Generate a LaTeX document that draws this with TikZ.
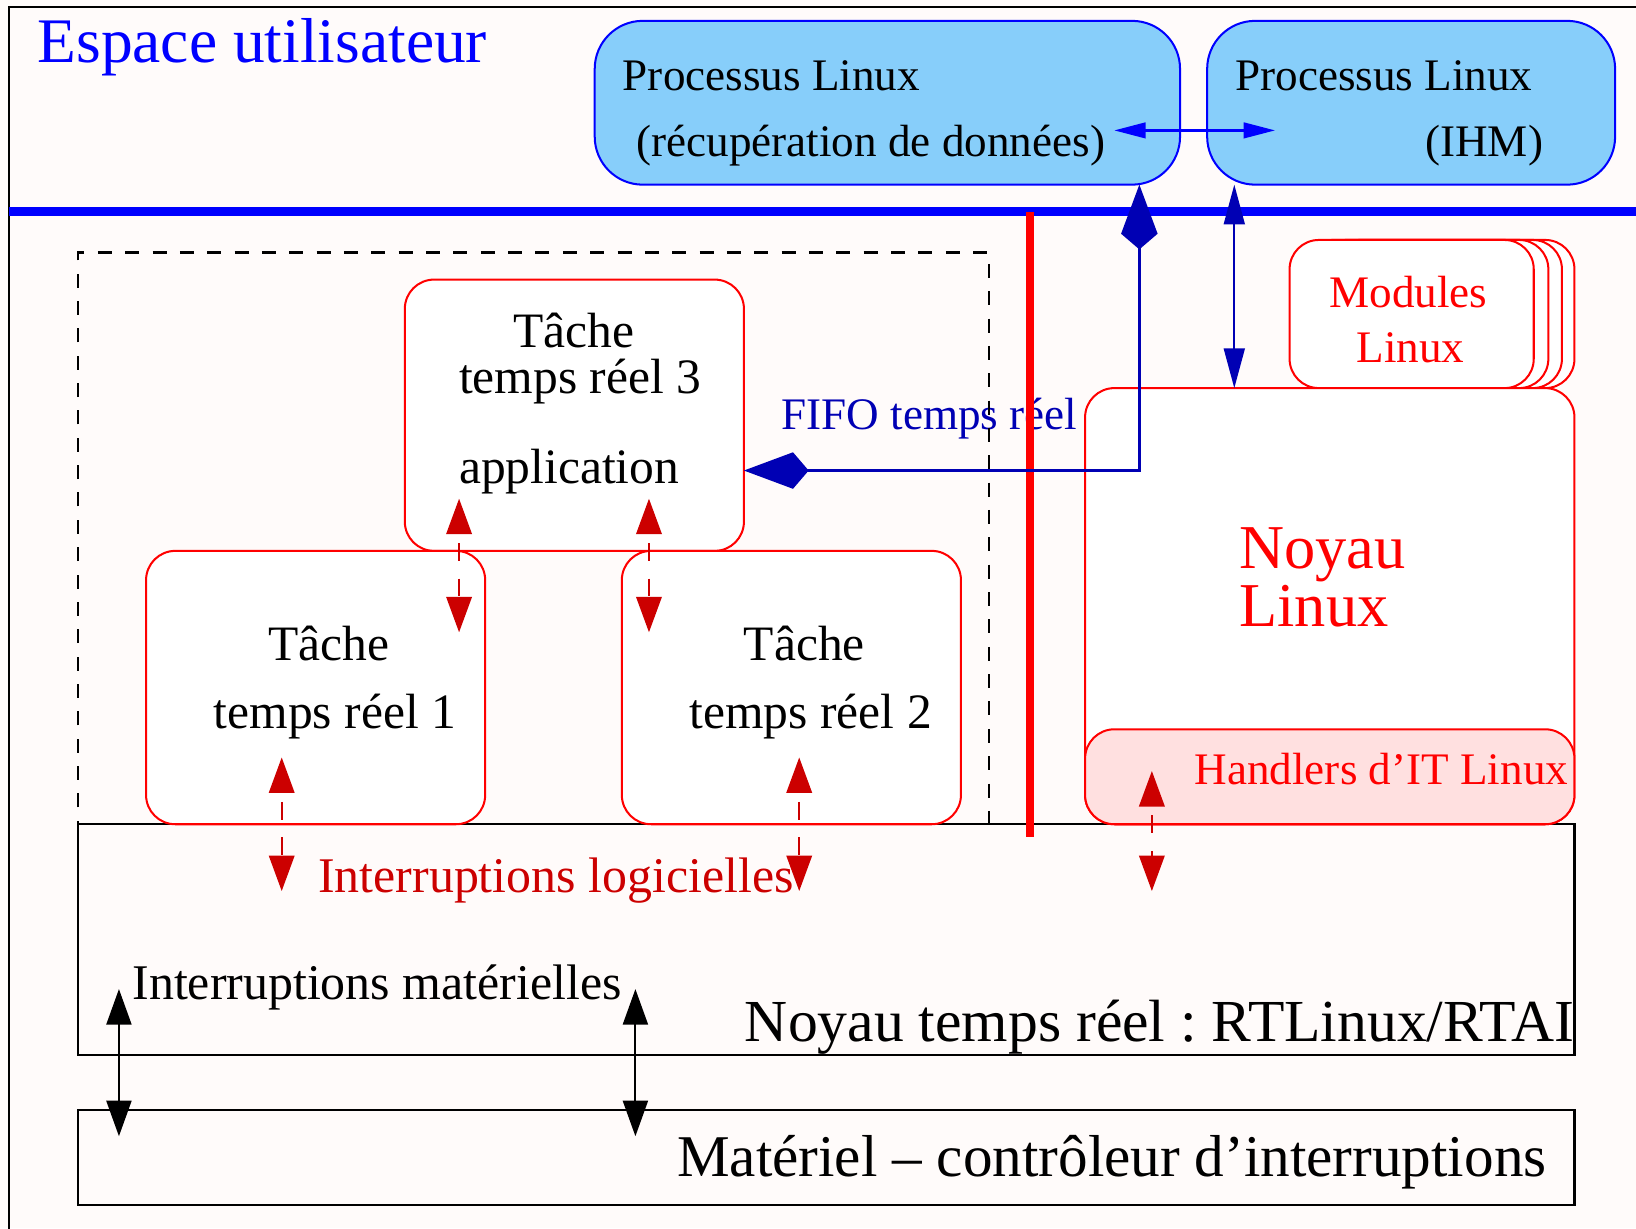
\documentclass[tikz,border=0pt]{standalone}
\usepackage{fontspec}
\setmainfont{Liberation Serif}
\usetikzlibrary{arrows.meta,fit}
\definecolor{bgc}{RGB}{255,251,250}
\definecolor{ublue}{RGB}{0,0,255}
\definecolor{procfill}{RGB}{135,206,250}
\definecolor{dblue}{RGB}{0,0,180}
\definecolor{dred}{RGB}{204,0,0}
\definecolor{pinkfill}{RGB}{255,224,224}
\frenchspacing
\begin{document}
\begin{tikzpicture}[x=0.01cm,y=-0.01cm,
  box/.style={inner sep=0pt, outer sep=0pt, line width=0.55pt},
  procbox/.style={box, draw=ublue, fill=procfill, rounded corners=0.46cm},
  redbox/.style={box, draw=red, fill=white, rounded corners=0.28cm},
  blackbox/.style={box, draw=black, line width=0.6pt},
  txt/.style={inner sep=0pt, outer sep=0pt},
  fs/.style={font=\fontsize{#1}{#1}\selectfont},
  tipR/.tip={Triangle[length=0.34cm,width=0.245cm]},
  tipK/.tip={Triangle[length=0.34cm,width=0.24cm]},
  tipB/.tip={Triangle[length=0.30cm,width=0.15cm]},
  tipD/.tip={Triangle[length=0.38cm,width=0.20cm]},
  tipF/.tip={Kite[length=0.62cm,width=0.35cm,inset=0.15cm]},
  redarrow/.style={draw=dred, line width=0.5pt, dash pattern=on 0.17cm off 0.17cm, dash phase=0.25cm, {tipR}-{tipR}},
  blackarrow/.style={draw=black, line width=0.5pt, {tipK}-{tipK}},
  procarrow/.style={draw=ublue, line width=0.6pt, {tipB}-{tipB}},
  ihmarrow/.style={draw=dblue, line width=0.55pt, {tipD}-{tipD}},
  fifoarrow/.style={draw=dblue, line width=0.95pt, {tipF}-{tipF}},
]
\path[use as bounding box, fill=bgc] (0,0) rectangle (1568,1177);
\clip (0,0) rectangle (1568,1177);
% outer frame
\draw[line width=0.6pt] (9,6.5) rectangle (1620,1220);
% kernel and hardware
\node[blackbox, fit={(75,790)(1509,1011)}] (rt) {};
\node[blackbox, fit={(75,1064)(1509,1155)}] (hw) {};
% user-space separator
\draw[ublue, line width=2.36pt] (9,203) -- (1568,203);
% processes
\node[procbox, fit={(570,20)(1131,177)}] (p1) {};
\node[procbox, fit={(1157,20)(1548,177)}] (p2) {};
% modules stack
\node[redbox, fit={(1275,230)(1509,372)}] (m3) {};
\node[redbox, fit={(1262,230)(1497,372)}] (m2) {};
\node[redbox, fit={(1249,230)(1484,372)}] (m1) {};
\node[redbox, fit={(1236,230)(1470,372)}] (mod) {};
% Linux kernel
\node[redbox, fit={(1040,372)(1509,790)}] (noyau) {};
\node[redbox, fill=pinkfill, fit={(1040,699)(1509,790)}] (hand) {};
% tasks
\node[redbox, fit={(388,268)(713,528)}] (t3) {};
\node[redbox, fit={(140,528)(465,790)}] (t1) {};
\node[redbox, fit={(596,528)(921,790)}] (t2) {};
% texts
\node[txt, fs=17.3, text=ublue, anchor=base west] (esp) at (36,60) {Espace utilisateur};
\node[txt, fs=12.3, anchor=base west] (p1a) at (597,87) {Processus Linux};
\node[txt, fs=12.3, anchor=base west] (p1b) at (610,150) {(récupération de données)};
\node[txt, fs=12.3, anchor=base west] (p2a) at (1184,87) {Processus Linux};
\node[txt, fs=12.3, anchor=base west] (p2b) at (1366,150) {(IHM)};
\node[txt, fs=13.5, anchor=base] (t3a) at (550,333) {Tâche};
\node[txt, fs=13.5, anchor=base west] (t3b) at (440,377) {temps réel 3};
\node[txt, fs=13.5, anchor=base west] (t3c) at (440,463) {application};
\node[txt, fs=13.5, anchor=base] (t1a) at (315,633) {Tâche};
\node[txt, fs=13.5, anchor=base west] (t1b) at (205,698) {temps réel 1};
\node[txt, fs=13.5, anchor=base] (t2a) at (771,633) {Tâche};
\node[txt, fs=13.5, anchor=base west] (t2b) at (661,698) {temps réel 2};
\node[txt, fs=12.3, text=dblue, anchor=base west] (fifo) at (749,412) {FIFO temps réel};
\node[txt, fs=12.3, text=red, anchor=base] (moda) at (1350,295) {Modules};
\node[txt, fs=12.3, text=red, anchor=base] (modb) at (1352,347) {Linux};
\node[txt, fs=17, text=red, anchor=base west] (noa) at (1188,545) {Noyau};
\node[txt, fs=17, text=red, anchor=base west] (nob) at (1188,600) {Linux};
\node[txt, fs=12.3, text=red, anchor=base west] (handt) at (1145,752) {Handlers d’IT Linux};
\node[txt, fs=13.6, text=dred, anchor=base west] (ilog) at (305,855) {Interruptions logicielles};
\node[txt, fs=13.6, anchor=base west] (imat) at (127,958) {Interruptions matérielles};
\node[txt, fs=16.25, anchor=base west] (rtt) at (714,998) {Noyau temps réel : RTLinux/RTAI};
\node[txt, fs=16.13, anchor=base west] (hwt) at (649,1128) {Matériel – contrôleur d’interruptions};
% dashed application frame
\draw[line width=0.6pt, dash pattern=on 0.134cm off 0.128cm, dash phase=0.1cm] (75,790) -- (75,242) -- (948,242) -- (948,790);
% named connector ends
\coordinate (pa) at (1068,125);
\coordinate (pb) at (1222,125);
\coordinate (fifoturn) at (1092,451);
\coordinate (ihmx) at (1183,300);
\coordinate (r31a) at (440,478); \coordinate (r31b) at (440,606);
\coordinate (r32a) at (622,478); \coordinate (r32b) at (622,606);
\coordinate (r1a) at (270,726); \coordinate (r1b) at (270,854);
\coordinate (r2a) at (766,726); \coordinate (r2b) at (766,854);
\coordinate (rha) at (1104,739); \coordinate (rhb) at (1104,854);
\coordinate (k1a) at (114,948); \coordinate (k1b) at (114,1089);
\coordinate (k2a) at (609,948); \coordinate (k2b) at (609,1089);
% red separator
\draw[red, line width=2.3pt] (987,203) -- (987,802);
% connectors
\draw[procarrow] (pa) -- (pb);
\draw[fifoarrow] (p1.south -| fifoturn) -- (fifoturn) -- (t3.east |- fifoturn);
\draw[ihmarrow] (p2.south -| ihmx) -- (noyau.north -| ihmx);
\draw[redarrow] (r31a) -- (r31b);
\draw[redarrow] (r32a) -- (r32b);
\draw[redarrow] (r1a) -- (r1b);
\draw[redarrow] (r2a) -- (r2b);
\draw[redarrow] (rha) -- (rhb);
\draw[blackarrow] (k1a) -- (k1b);
\draw[blackarrow] (k2a) -- (k2b);
\end{tikzpicture}
\end{document}
